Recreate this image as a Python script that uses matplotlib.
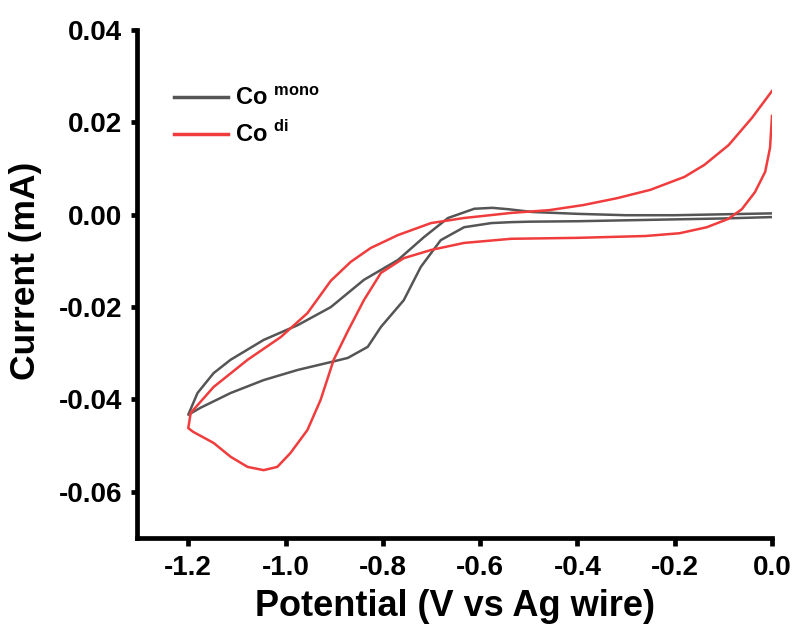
import matplotlib
matplotlib.use("Agg")
import matplotlib.pyplot as plt

plt.rcParams['font.family'] = ['Liberation Sans', 'DejaVu Sans']
plt.rcParams['font.weight'] = 'bold'
plt.rcParams['mathtext.fontset'] = 'custom'
plt.rcParams['mathtext.bf'] = 'Liberation Sans:bold'
plt.rcParams['mathtext.rm'] = 'Liberation Sans:bold'

# Co mono: cathodic sweep 0 -> -1.2 V, then return -1.2 -> 0 V
mono_fwd_x = [0.0, -0.1, -0.2, -0.3, -0.4, -0.5, -0.536, -0.577, -0.633, -0.681, -0.722,
              -0.757, -0.804, -0.831, -0.872, -0.907, -0.975, -1.045, -1.113, -1.175, -1.2]
mono_fwd_y = [-0.0005, -0.0008, -0.001, -0.0012, -0.0014, -0.0015, -0.0016, -0.0018, -0.0027,
              -0.0055, -0.0113, -0.0185, -0.0243, -0.0286, -0.031, -0.0319, -0.0336, -0.0358,
              -0.0386, -0.0418, -0.0433]
mono_rev_x = [-1.2, -1.181, -1.148, -1.113, -1.045, -0.975, -0.907, -0.839, -0.769, -0.715,
              -0.666, -0.612, -0.575, -0.542, -0.493, -0.4, -0.3, -0.2, -0.1, 0.0]
mono_rev_y = [-0.0433, -0.0386, -0.0343, -0.0314, -0.0271, -0.0239, -0.02, -0.0141, -0.0098,
              -0.0048, -0.0007, 0.0013, 0.0015, 0.0012, 0.0006, 0.0002, -0.0001, -0.0001,
              0.0001, 0.0003]

# Co di
di_fwd_x = [0.0, -0.004, -0.014, -0.035, -0.062, -0.09, -0.134, -0.19, -0.26, -0.40, -0.536,
            -0.633, -0.70, -0.757, -0.804, -0.839, -0.872, -0.901, -0.928, -0.955, -0.99,
            -1.017, -1.045, -1.078, -1.113, -1.148, -1.19, -1.2]
di_fwd_y = [0.0214, 0.0145, 0.0093, 0.0049, 0.0012, -0.0009, -0.0027, -0.004, -0.0046, -0.005,
            -0.0052, -0.0061, -0.0076, -0.0094, -0.0126, -0.0185, -0.0252, -0.0314, -0.0401,
            -0.0466, -0.0516, -0.0546, -0.0553, -0.0546, -0.0524, -0.0494, -0.047, -0.0462]
di_rev_x = [-1.2, -1.195, -1.148, -1.078, -1.01, -0.955, -0.907, -0.866, -0.825, -0.769,
            -0.701, -0.633, -0.536, -0.458, -0.388, -0.318, -0.25, -0.18, -0.139, -0.089,
            -0.041, 0.0]
di_rev_y = [-0.0462, -0.0429, -0.0373, -0.0314, -0.0265, -0.0213, -0.0143, -0.0102, -0.0072,
            -0.0044, -0.0018, -0.0007, 0.0004, 0.001, 0.0021, 0.0036, 0.0054, 0.0082, 0.0108,
            0.0151, 0.021, 0.0268]

x_ticks = [-1.2, -1.0, -0.8, -0.6, -0.4, -0.2, 0.0]
y_ticks = [-0.06, -0.04, -0.02, 0.00, 0.02, 0.04]

grey = '#555555'
red = '#f03c3c'

fig = plt.figure(figsize=(7.93, 6.39), dpi=100)
ax = fig.add_axes([0.173, 0.158, 0.8005, 0.795])

ax.plot(mono_fwd_x + mono_rev_x, mono_fwd_y + mono_rev_y, color=grey, lw=1.8,
        label=r'Co $^{\mathbf{mono}}$')
ax.plot(di_fwd_x + di_rev_x, di_fwd_y + di_rev_y, color=red, lw=1.8,
        label=r'Co $^{\mathbf{di}}$')

ax.set_xlim(-1.305, 0.0)
ax.set_ylim(-0.07, 0.04)
ax.set_xticks(x_ticks)
ax.set_xticklabels([f"{v:.1f}" for v in x_ticks])
ax.set_yticks(y_ticks)
ax.set_yticklabels([f"{v:.2f}" for v in y_ticks])

for s in ['top', 'right']:
    ax.spines[s].set_visible(False)
for s in ['left', 'bottom']:
    ax.spines[s].set_linewidth(3.4)
ax.tick_params(direction='out', width=3.4, labelsize=20)
ax.tick_params(axis='x', length=6, pad=6)
ax.tick_params(axis='y', length=4, pad=7)
for lab in ax.get_xticklabels() + ax.get_yticklabels():
    lab.set_fontweight('bold')

ax.set_xlabel('Potential (V vs Ag wire)', fontsize=26, fontweight='bold', labelpad=6)
ax.set_ylabel('Current (mA)', fontsize=25.5, fontweight='bold')
ax.yaxis.set_label_coords(-0.15, 0.526)

leg = ax.legend(loc='upper left', bbox_to_anchor=(0.024, 0.93), frameon=False, fontsize=17,
                handlelength=2.3, handletextpad=0.3, labelspacing=0.45)
for h in leg.get_lines():
    h.set_linewidth(2.5)

fig.savefig('out.png', dpi=100)
